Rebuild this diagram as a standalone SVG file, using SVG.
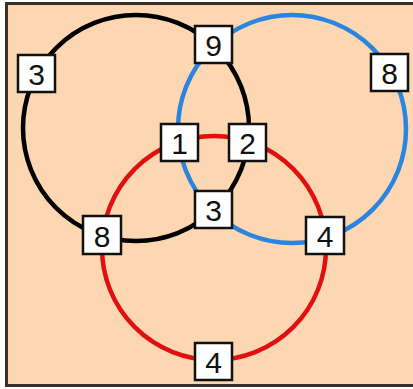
<svg xmlns="http://www.w3.org/2000/svg" width="413" height="389" viewBox="0 0 413 389">
<style>
.ring{fill:none;stroke-width:4.5}
.box rect{fill:#ffffff;stroke:#111111;stroke-width:2.5}
.box text{font-family:"Liberation Sans",Arial,sans-serif;font-size:30px;fill:#111111;text-anchor:middle;dominant-baseline:central}
</style>
<rect x="0" y="0" width="413" height="389" fill="#ffffff"/>
<rect id="frame" x="6.5" y="3.5" width="420" height="382" fill="#fdd6b2" stroke="#3a3028" stroke-width="3"/>
<g id="connectors">
<circle class="ring" cx="136" cy="128" r="113" stroke="#000000"/>
<circle class="ring" cx="292" cy="129" r="114" stroke="#2a85e0"/>
<circle class="ring" cx="214" cy="248" r="112" stroke="#e01010"/>
</g>
<g id="n3a" class="box"><rect x="18" y="55" width="37" height="37"/><text x="36.5" y="74.5">3</text></g>
<g id="n9" class="box"><rect x="195" y="26" width="37" height="37"/><text x="213.5" y="45.5">9</text></g>
<g id="n8a" class="box"><rect x="371" y="54" width="37" height="37"/><text x="389.5" y="73.5">8</text></g>
<g id="n1" class="box"><rect x="161" y="124" width="37" height="37"/><text x="179.5" y="143.5">1</text></g>
<g id="n2" class="box"><rect x="229" y="124" width="37" height="37"/><text x="247.5" y="143.5">2</text></g>
<g id="n3b" class="box"><rect x="195" y="191" width="37" height="37"/><text x="213.5" y="210.5">3</text></g>
<g id="n8b" class="box"><rect x="83" y="216" width="38" height="38"/><text x="102" y="236">8</text></g>
<g id="n4a" class="box"><rect x="306" y="217" width="38" height="37"/><text x="325" y="236.5">4</text></g>
<g id="n4b" class="box"><rect x="195" y="343" width="37" height="37"/><text x="213.5" y="362.5">4</text></g>
</svg>
